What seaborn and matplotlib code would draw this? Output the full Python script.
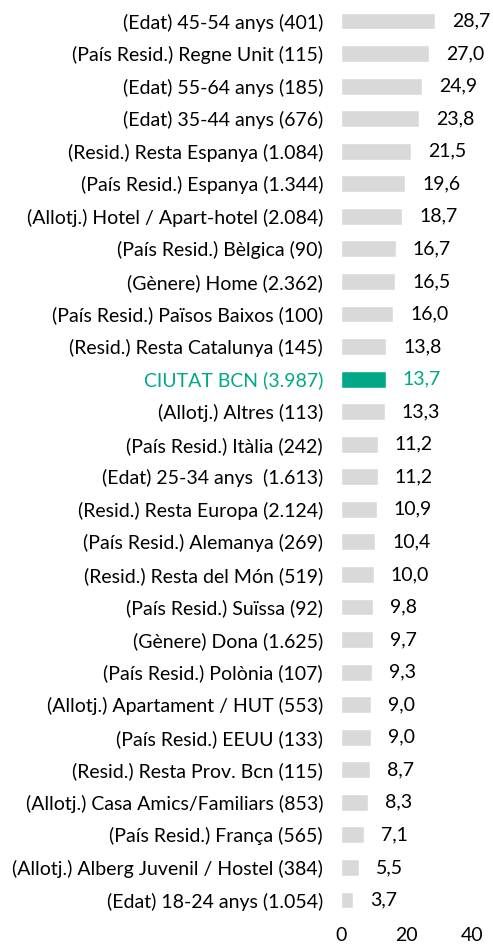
import matplotlib
matplotlib.use("Agg")
import matplotlib.pyplot as plt
import seaborn as sns
import pandas as pd

categories = [
    "(Edat) 45-54 anys (401)",
    "(País Resid.) Regne Unit (115)",
    "(Edat) 55-64 anys (185)",
    "(Edat) 35-44 anys (676)",
    "(Resid.) Resta Espanya (1.084)",
    "(País Resid.) Espanya (1.344)",
    "(Allotj.) Hotel / Apart-hotel (2.084)",
    "(País Resid.) Bèlgica (90)",
    "(Gènere) Home (2.362)",
    "(País Resid.) Països Baixos (100)",
    "(Resid.) Resta Catalunya (145)",
    "CIUTAT BCN (3.987)",
    "(Allotj.) Altres (113)",
    "(País Resid.) Itàlia (242)",
    "(Edat) 25-34 anys  (1.613)",
    "(Resid.) Resta Europa (2.124)",
    "(País Resid.) Alemanya (269)",
    "(Resid.) Resta del Món (519)",
    "(País Resid.) Suïssa (92)",
    "(Gènere) Dona (1.625)",
    "(País Resid.) Polònia (107)",
    "(Allotj.) Apartament / HUT (553)",
    "(País Resid.) EEUU (133)",
    "(Resid.) Resta Prov. Bcn (115)",
    "(Allotj.) Casa Amics/Familiars (853)",
    "(País Resid.) França (565)",
    "(Allotj.) Alberg Juvenil / Hostel (384)",
    "(Edat) 18-24 anys (1.054)",
]
values = [28.7, 27.0, 24.9, 23.8, 21.5, 19.6, 18.7, 16.7, 16.5, 16.0, 13.8, 13.7,
          13.3, 11.2, 11.2, 10.9, 10.4, 10.0, 9.8, 9.7, 9.3, 9.0, 9.0, 8.7, 8.3,
          7.1, 5.5, 3.7]
highlight = "CIUTAT BCN (3.987)"
x_ticks = [0, 20, 40]

GRAY = "#D9D9D9"
TEAL = "#00A887"
TEXT = "#000000"
FS = 14

sns.set_theme(style="white")
plt.rcParams["font.family"] = ["Lato", "DejaVu Sans"]

df = pd.DataFrame({"cat": categories, "val": values})
palette = {c: (TEAL if c == highlight else GRAY) for c in categories}

fig = plt.figure(figsize=(4.93, 9.51), dpi=100)
ax = fig.add_axes([0.692, 0.0365, 0.265, 0.9585])
sns.barplot(data=df, y="cat", x="val", hue="cat", palette=palette, dodge=False,
            legend=False, width=0.52, ax=ax, saturation=1)

ax.set_xlim(0, 40)
ax.set_ylim(len(categories) - 0.5, -0.5)
ax.set_xticks(x_ticks)
ax.set_xticklabels([str(t) for t in x_ticks], fontsize=FS, color=TEXT)
ax.set_xlabel("")
ax.set_ylabel("")
ax.tick_params(axis="both", length=0)
ax.tick_params(axis="x", pad=8)
ax.tick_params(axis="y", pad=13)
ax.set_yticks(range(len(categories)))
ax.set_yticklabels(categories, fontsize=FS)
for lbl in ax.get_yticklabels():
    lbl.set_color(TEAL if lbl.get_text() == highlight else TEXT)
for s in ax.spines.values():
    s.set_visible(False)

for i, (c, v) in enumerate(zip(categories, values)):
    ax.annotate(f"{v:.1f}".replace(".", ","), xy=(v, i), xytext=(17, 0),
                textcoords="offset pixels",
                va="center", ha="left", fontsize=FS,
                color=TEAL if c == highlight else TEXT)

fig.savefig("out.png", dpi=100)
